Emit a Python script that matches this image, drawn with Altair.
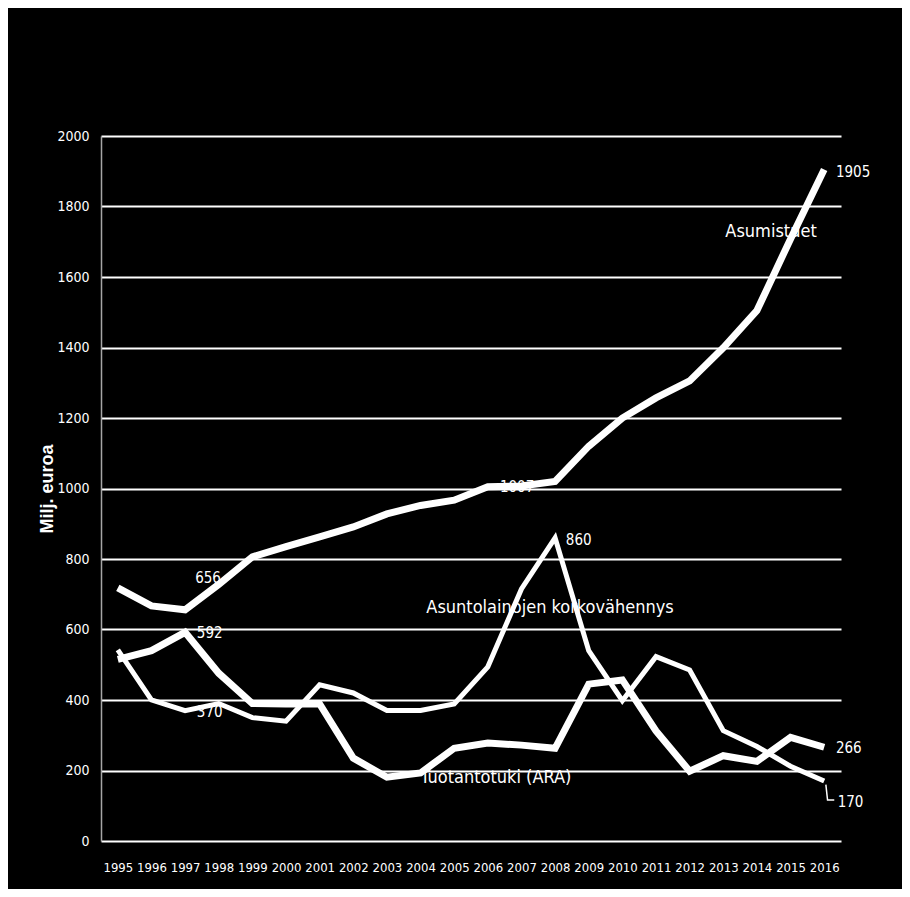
import altair as alt
import pandas as pd

years = list(range(1995, 2017))
asumistuet = [718, 667, 656, 728, 806, 835, 863, 891, 928, 952, 967, 1005,
              1007, 1020, 1120, 1200, 1257, 1305, 1399, 1505, 1708, 1905]
korkovahennys = [542, 400, 370, 390, 350, 340, 443, 420, 370, 370, 389, 494,
                 715, 860, 540, 398, 523, 485, 313, 268, 212, 170]
tuotantotuki = [515, 540, 592, 476, 390, 389, 389, 235, 181, 193, 263, 278,
                272, 263, 445, 457, 312, 198, 242, 226, 294, 266]

series_names = ["Asumistuet", "Asuntolainojen korkovähennys", "Tuotantotuki (ARA)"]
series_widths = [7, 5, 7]

# value labels (text, x in years, y in euros)
val_text = ["656", "592", "370", "1007", "860", "1905", "266", "170"]
val_x = [1997.3, 1997.35, 1997.35, 2006.36, 2008.32, 2016.35, 2016.35, 2016.4]
val_y = [746, 590, 366, 1004, 854, 1898, 264, 111]

# series name labels
name_text = ["Asumistuet", "Asuntolainojen korkovähennys", "Tuotantotuki (ARA)"]
name_x = [2014.42, 2007.85, 2006.24]
name_y = [1728, 661, 179]

# leader line for the "170" label
leader_x = [2016.05, 2016.1, 2016.3]
leader_y = [160, 116, 116]

FONT = "Liberation Sans Narrow, DejaVu Sans Condensed, sans-serif"

rows = []
for name, vals, w in zip(series_names, [asumistuet, korkovahennys, tuotantotuki], series_widths):
    for yr, v in zip(years, vals):
        rows.append({"x": yr, "y": v, "series": name, "w": w})
df = pd.DataFrame(rows)

vals_df = pd.DataFrame({"text": val_text, "x": val_x, "y": val_y})
names_df = pd.DataFrame({"text": name_text, "x": name_x, "y": name_y})
leader_df = pd.DataFrame({"x": leader_x, "y": leader_y, "o": [0, 1, 2]})

xscale = alt.Scale(domain=[1994.5, 2016.5], nice=False, zero=False)
yscale = alt.Scale(domain=[0, 2000], nice=False)

x_axis = alt.Axis(values=years, format="d", title=None, grid=False, domain=False,
                  ticks=False, labelColor="white", labelFont=FONT, labelFontSize=13,
                  labelPadding=20, labelAngle=0)
y_axis = alt.Axis(values=list(range(0, 2001, 200)), format="d", title="Milj. euroa",
                  grid=True, gridColor="white", gridWidth=2, gridOpacity=1,
                  domain=True, domainColor="#a6a6a6", domainWidth=1.5,
                  ticks=False, labelColor="white", labelFont=FONT, labelFontSize=14,
                  labelPadding=12, titleColor="white",
                  titleFont="Liberation Sans, Arial, sans-serif",
                  titleFontSize=18, titleFontWeight="bold", titlePadding=0)

X = alt.X("x:Q", scale=xscale, axis=x_axis)
Y = alt.Y("y:Q", scale=yscale, axis=y_axis)

value_labels = alt.Chart(vals_df).mark_text(
    align="left", baseline="middle", color="white", font=FONT, fontSize=15
).encode(x=X, y=Y, text="text:N")

name_labels = alt.Chart(names_df).mark_text(
    align="center", baseline="middle", color="white", font=FONT, fontSize=18
).encode(x=X, y=Y, text="text:N")

lines = alt.Chart(df).mark_line(color="white", strokeJoin="miter", strokeCap="butt").encode(
    x=X, y=Y,
    detail="series:N",
    strokeWidth=alt.StrokeWidth("w:Q", scale=None, legend=None),
)

leader = alt.Chart(leader_df).mark_line(color="white", strokeWidth=1.5).encode(
    x=X, y=Y, order="o:Q")

chart = alt.layer(value_labels, name_labels, lines, leader).properties(
    width=740, height=705, background="black",
    autosize=alt.AutoSizeParams(type="none"),
    padding={"left": 93, "top": 128, "right": 61, "bottom": 48},
).configure_view(stroke=None)

chart.save("out.html", embed_options={"renderer": "svg", "actions": False})
